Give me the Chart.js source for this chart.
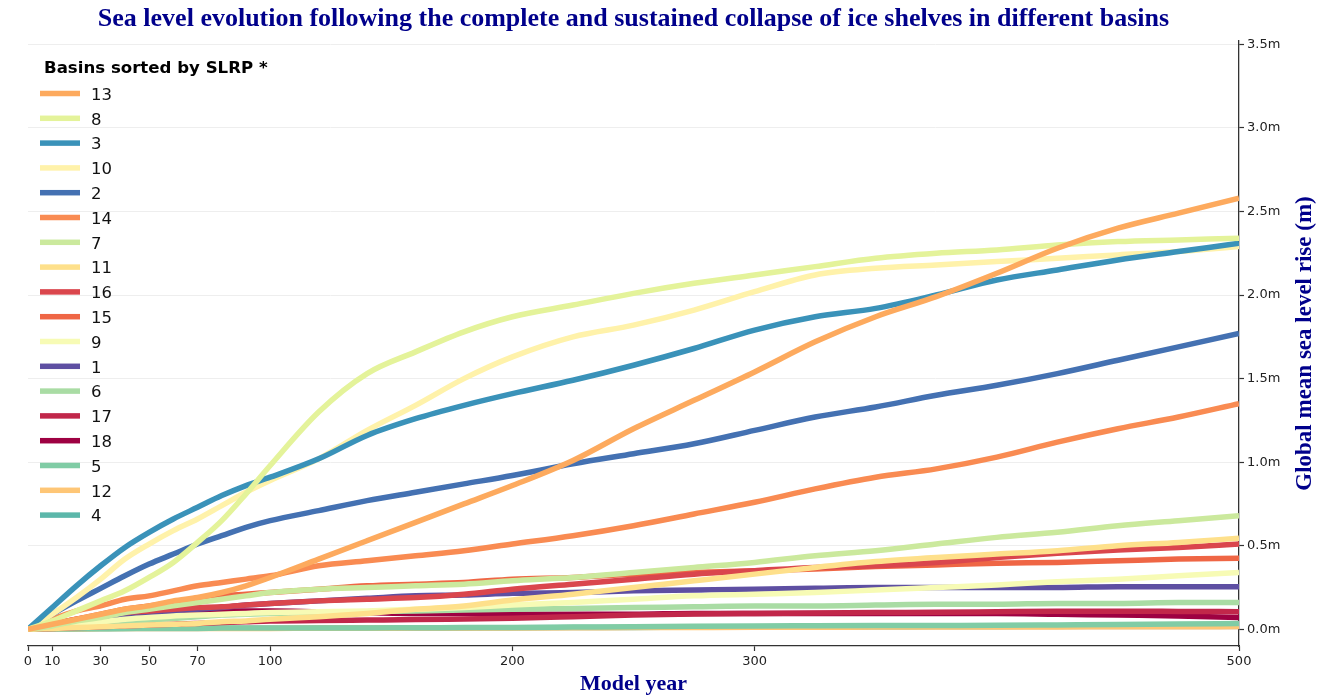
<!DOCTYPE html>
<html>
<head>
<meta charset="utf-8">
<script src="https://cdn.jsdelivr.net/npm/chart.js@4.4.1/dist/chart.umd.min.js"></script>
<style>
  html, body { margin: 0; padding: 0; background: #ffffff; }
  #wrap { width: 1331px; height: 698px; }
</style>
</head>
<body>
<div id="wrap"><canvas id="c" width="1331" height="698"></canvas></div>
<script>
// ---- data (metres of global mean sea level rise) ----
const years = [0,10,20,30,40,50,60,70,80,90,100,120,140,160,180,200,225,250,275,300,325,350,375,400,425,450,475,500];
const xTickValues = [0,10,30,50,70,100,200,300,500];
const yTickValues = [0,0.5,1.0,1.5,2.0,2.5,3.0,3.5];

// basins in legend order (sorted by SLRP)
const basinOrder = ['13','8','3','10','2','14','7','11','16','15','9','1','6','17','18','5','12','4'];

const basin13 = [0,0.03,0.06,0.09,0.12,0.14,0.17,0.19,0.22,0.26,0.31,0.42,0.53,0.64,0.75,0.86,1.01,1.20,1.37,1.54,1.72,1.87,1.99,2.13,2.28,2.40,2.49,2.58];
const basin8  = [0,0.05,0.11,0.17,0.23,0.31,0.40,0.52,0.65,0.81,0.98,1.30,1.53,1.66,1.78,1.87,1.94,2.01,2.07,2.12,2.17,2.22,2.25,2.27,2.30,2.32,2.33,2.34];
const basin3  = [0,0.13,0.26,0.38,0.49,0.58,0.66,0.73,0.80,0.86,0.91,1.02,1.16,1.26,1.34,1.41,1.49,1.58,1.68,1.79,1.87,1.92,2.00,2.09,2.15,2.21,2.26,2.31];
const basin10 = [0,0.09,0.19,0.30,0.42,0.51,0.59,0.66,0.74,0.82,0.89,1.02,1.19,1.34,1.50,1.63,1.75,1.82,1.91,2.02,2.12,2.16,2.18,2.20,2.22,2.24,2.26,2.29];
const basin2  = [0,0.09,0.17,0.245,0.32,0.39,0.45,0.51,0.56,0.61,0.65,0.71,0.77,0.82,0.87,0.92,0.99,1.05,1.11,1.19,1.27,1.33,1.40,1.46,1.53,1.61,1.69,1.77];
const basin14 = [0,0.06,0.11,0.14,0.18,0.20,0.23,0.26,0.28,0.30,0.32,0.38,0.41,0.44,0.47,0.51,0.56,0.62,0.69,0.76,0.84,0.91,0.96,1.03,1.12,1.20,1.27,1.35];
const basin7  = [0,0.02,0.05,0.07,0.10,0.12,0.14,0.16,0.18,0.20,0.22,0.24,0.25,0.26,0.27,0.29,0.31,0.34,0.37,0.40,0.44,0.47,0.51,0.55,0.58,0.62,0.65,0.68];
const basin11 = [0,0.005,0.01,0.015,0.02,0.025,0.03,0.035,0.045,0.05,0.06,0.075,0.095,0.12,0.14,0.175,0.21,0.25,0.29,0.33,0.37,0.405,0.43,0.45,0.47,0.50,0.52,0.545];
const basin16 = [0,0.03,0.06,0.08,0.10,0.11,0.12,0.13,0.135,0.145,0.155,0.17,0.18,0.19,0.21,0.24,0.27,0.30,0.33,0.35,0.37,0.38,0.40,0.43,0.455,0.475,0.49,0.51];
const basin15 = [0,0.03,0.06,0.09,0.12,0.14,0.16,0.18,0.20,0.21,0.22,0.24,0.26,0.27,0.28,0.30,0.31,0.33,0.34,0.35,0.36,0.375,0.385,0.395,0.40,0.41,0.42,0.425];
const basin9  = [0,0.015,0.03,0.045,0.06,0.07,0.08,0.085,0.09,0.095,0.10,0.105,0.11,0.12,0.13,0.145,0.16,0.18,0.20,0.21,0.22,0.235,0.25,0.265,0.285,0.30,0.32,0.34];
const basin1  = [0,0.02,0.04,0.06,0.08,0.09,0.11,0.12,0.13,0.145,0.155,0.17,0.185,0.2,0.205,0.215,0.22,0.23,0.235,0.24,0.245,0.25,0.25,0.25,0.25,0.255,0.255,0.255];
const basin6  = [0,0.01,0.02,0.03,0.045,0.055,0.065,0.075,0.085,0.09,0.095,0.10,0.105,0.11,0.115,0.12,0.125,0.13,0.135,0.14,0.14,0.145,0.15,0.15,0.155,0.155,0.16,0.16];
const basin17 = [0,0.005,0.01,0.015,0.02,0.025,0.03,0.035,0.04,0.045,0.05,0.052,0.055,0.058,0.062,0.066,0.075,0.085,0.092,0.095,0.097,0.10,0.102,0.105,0.108,0.108,0.107,0.105];
const basin18 = [0,0.02,0.04,0.06,0.08,0.09,0.10,0.105,0.11,0.11,0.11,0.105,0.10,0.095,0.095,0.09,0.09,0.09,0.095,0.095,0.095,0.095,0.095,0.095,0.09,0.085,0.08,0.07];
const basin5  = [0,0.003,0.004,0.005,0.005,0.006,0.006,0.006,0.007,0.007,0.007,0.008,0.008,0.009,0.01,0.011,0.013,0.015,0.018,0.02,0.021,0.022,0.023,0.024,0.026,0.028,0.031,0.035];
const basin12 = [0,0.002,0.003,0.004,0.004,0.005,0.005,0.005,0.005,0.005,0.005,0.006,0.006,0.007,0.007,0.008,0.009,0.01,0.011,0.012,0.012,0.013,0.013,0.014,0.014,0.015,0.015,0.016];
const basin4  = [0,0.001,0.002,0.003,0.004,0.004,0.005,0.005,0.006,0.006,0.006,0.007,0.007,0.008,0.008,0.009,0.01,0.011,0.012,0.013,0.014,0.015,0.016,0.017,0.018,0.019,0.02,0.02];

// ---- styles ----
const basinValues = {
  '13': basin13, '8': basin8, '3': basin3, '10': basin10, '2': basin2, '14': basin14,
  '7': basin7, '11': basin11, '16': basin16, '15': basin15, '9': basin9, '1': basin1,
  '6': basin6, '17': basin17, '18': basin18, '5': basin5, '12': basin12, '4': basin4
};
const basinColors = {
  '13': '#fdaa5e', '8': '#e4f39a', '3': '#3a92b9', '10': '#fff2aa', '2': '#4471b2', '14': '#f98b52',
  '7': '#cbe99d', '11': '#fee08b', '16': '#da464d', '15': '#ef6645', '9': '#f7fbb5', '1': '#5e4fa2',
  '6': '#a9dca4', '17': '#c1274a', '18': '#9e0142', '5': '#80cca5', '12': '#fec676', '4': '#5cb7aa'
};
const LINE_W = 5.5;
const TITLE_COLOR = '#00008b';

// Chart.js draws the first dataset on top: legend order = top-most first
const datasets = basinOrder.map(b => ({
  label: b,
  data: years.map((x, i) => ({ x: x, y: basinValues[b][i] })),
  borderColor: basinColors[b],
  backgroundColor: basinColors[b],
  borderWidth: LINE_W,
  pointRadius: 0,
  pointHoverRadius: 0,
  fill: false,
  cubicInterpolationMode: 'monotone'
}));

const legendPlugin = {
  id: 'customLegend',
  afterDatasetsDraw(chart) {
    const ctx = chart.ctx;
    ctx.save();
    ctx.fillStyle = '#000';
    ctx.textBaseline = 'middle';
    ctx.textAlign = 'left';
    ctx.font = 'bold 16.6px "DejaVu Sans"';
    ctx.fillText('Basins sorted by SLRP *', 44, 69);
    ctx.font = '16.5px "DejaVu Sans"';
    basinOrder.forEach((b, i) => {
      const cy = 93.5 + i * 24.8;
      ctx.fillStyle = basinColors[b];
      ctx.fillRect(40, cy - LINE_W / 2, 40, LINE_W);
      ctx.fillStyle = '#111';
      ctx.fillText(b, 91, cy + 2);
    });
    ctx.restore();
  }
};

const yTitlePlugin = {
  id: 'rightYTitle',
  afterDraw(chart) {
    const ctx = chart.ctx;
    const a = chart.chartArea;
    ctx.save();
    ctx.translate(1305, (a.top + a.bottom) / 2);
    ctx.rotate(-Math.PI / 2);
    ctx.font = 'bold 23px "Liberation Serif"';
    ctx.fillStyle = TITLE_COLOR;
    ctx.textAlign = 'center';
    ctx.textBaseline = 'middle';
    ctx.fillText('Global mean sea level rise (m)', 0, 0);
    ctx.restore();
  }
};

new Chart(document.getElementById('c'), {
  type: 'line',
  data: { datasets: datasets },
  plugins: [legendPlugin, yTitlePlugin],
  options: {
    responsive: false,
    animation: false,
    devicePixelRatio: 1,
    layout: { padding: { left: 28, right: 0, top: 0, bottom: 0 } },
    plugins: {
      legend: { display: false },
      tooltip: { enabled: false },
      title: {
        display: true,
        fullSize: false,
        text: 'Sea level evolution following the complete and sustained collapse of ice shelves in different basins',
        color: TITLE_COLOR,
        font: { family: '"Liberation Serif"', size: 26, weight: 'bold', lineHeight: 1.2 },
        padding: { top: 3.4, bottom: 6.4 }
      }
    },
    scales: {
      x: {
        type: 'linear',
        min: 0,
        max: 500,
        afterBuildTicks(scale) { scale.ticks = xTickValues.map(v => ({ value: v })); },
        afterFit(scale) { scale.height = 52; },
        ticks: {
          autoSkip: false,
          maxRotation: 0,
          color: '#222',
          padding: 3,
          font: { family: '"DejaVu Sans"', size: 13 }
        },
        grid: { display: true, drawOnChartArea: false, drawTicks: true, tickLength: 5, tickColor: '#333', tickWidth: 1.2 },
        border: { display: true, color: '#333', width: 1.3 },
        title: {
          display: true,
          text: 'Model year',
          color: TITLE_COLOR,
          font: { family: '"Liberation Serif"', size: 22, weight: 'bold', lineHeight: 1.2 },
          padding: { top: 0, bottom: 0 }
        }
      },
      y: {
        type: 'linear',
        position: 'right',
        min: -0.1,
        max: 3.52,
        afterBuildTicks(scale) { scale.ticks = yTickValues.map(v => ({ value: v })); },
        afterFit(scale) { scale.width = 92; },
        ticks: {
          color: '#222',
          padding: 3,
          font: { family: '"DejaVu Sans"', size: 13 },
          callback: (v) => Number(v).toFixed(1) + 'm'
        },
        grid: { display: true, drawOnChartArea: true, color: '#eeeeee', lineWidth: 1, drawTicks: true, tickLength: 5, tickColor: '#333', tickWidth: 1.2 },
        border: { display: true, color: '#333', width: 1.3 }
      }
    }
  }
});
</script>
</body>
</html>
